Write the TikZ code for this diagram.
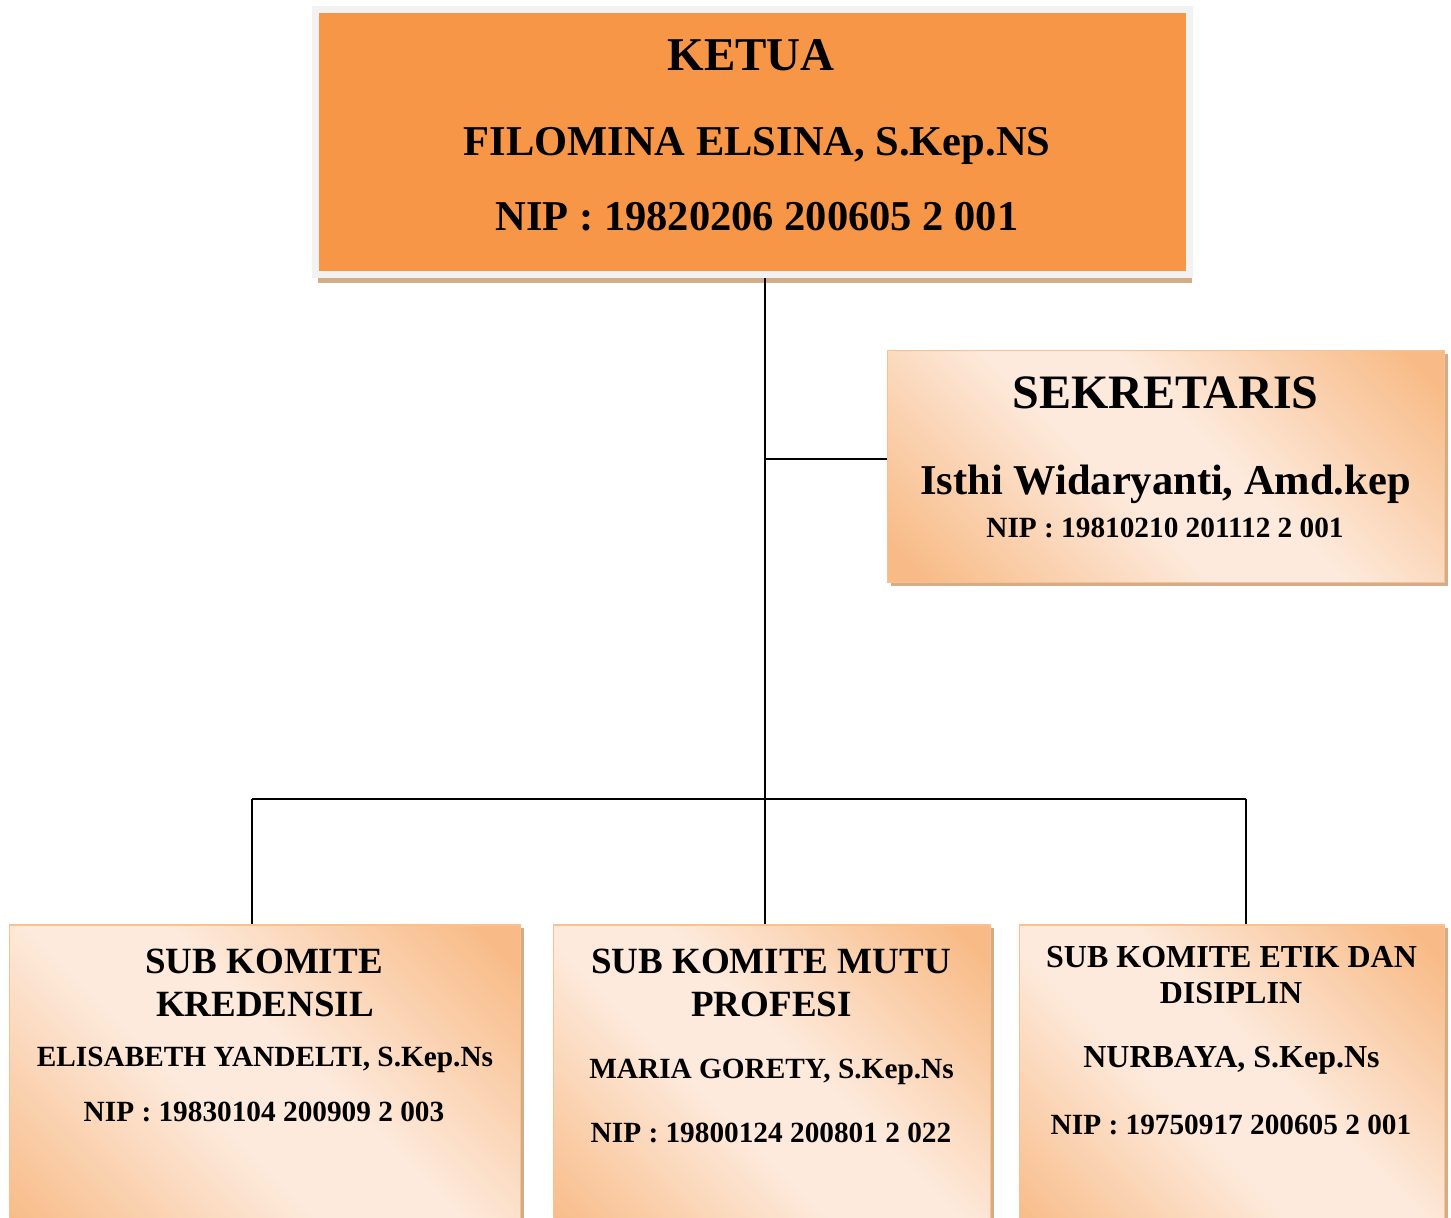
\documentclass[tikz,border=0pt]{standalone}
\usepackage{fontspec}
\setmainfont{Liberation Serif}
\usetikzlibrary{shadows}
\definecolor{ketuaorange}{HTML}{F79646}
\definecolor{ketuaedge}{HTML}{F2F2F2}
\definecolor{boxshadow}{HTML}{D3AC88}
\definecolor{peachdark}{HTML}{F8BB87}
\definecolor{peachlight}{HTML}{FDEADC}
\definecolor{peachedge}{HTML}{FAC090}
\pgfdeclarehorizontalshading{peach}{100bp}{color(0bp)=(peachdark); color(18bp)=(peachdark); color(44bp)=(peachlight); color(56bp)=(peachlight); color(82bp)=(peachdark); color(100bp)=(peachdark)}
\newcommand{\fs}[1]{\fontsize{#1}{#1}\selectfont\bfseries}
\tikzset{
  ketuabox/.style={draw=ketuaedge, line width=7pt, fill=ketuaorange,
    minimum width=874pt, minimum height=265pt,
    general shadow={fill=boxshadow, shadow xshift=2pt, shadow yshift=-8.5pt}},
  peachbox/.style={draw=peachedge, line width=1.5pt, shading=peach, shading angle=45,
    general shadow={fill=boxshadow, shadow xshift=3pt, shadow yshift=-3pt}},
  ln/.style={anchor=base, inner sep=0pt},
  link/.style={line width=1.6pt}
}
\begin{document}
\begin{tikzpicture}[x=1pt,y=-1pt]
      \clip (0,0) rectangle (1451,1218);
      % boxes
      \node[ketuabox] (ketua) at (752.5,142) {};
      \node[peachbox, minimum width=557pt, minimum height=232pt] (sekretaris) at (1166,466.5) {};
      \node[peachbox, minimum width=511pt, minimum height=340pt] (kredensil) at (265,1095) {};
      \node[peachbox, minimum width=437pt, minimum height=340pt] (mutu) at (772,1095) {};
      \node[peachbox, minimum width=425pt, minimum height=340pt] (etik) at (1232,1095) {};
      % texts
      \node[ln] (ketuaT) at (751,70) {\fs{47}KETUA};
      \node[ln] (ketuaN) at (757,155) {\fs{42.5}FILOMINA ELSINA, S.Kep.NS};
      \node[ln] (ketuaP) at (757,230) {\fs{42.5}NIP : 19820206 200605 2 001};
      \node[ln] (sekT) at (1165.5,408) {\fs{48}SEKRETARIS};
      \node[ln] (sekN) at (1165.5,494) {\fs{42.5}Isthi Widaryanti, Amd.kep};
      \node[ln] (sekP) at (1165,537) {\fs{29.3}NIP : 19810210 201112 2 001};
      \node[ln] (kredT1) at (264,973) {\fs{37}SUB KOMITE};
      \node[ln] (kredT2) at (265,1016) {\fs{37}KREDENSIL};
      \node[ln] (kredN) at (265,1066) {\fs{29.3}ELISABETH YANDELTI, S.Kep.Ns};
      \node[ln] (kredP) at (264,1121) {\fs{29.3}NIP : 19830104 200909 2 003};
      \node[ln] (mutuT1) at (771,973) {\fs{37}SUB KOMITE MUTU};
      \node[ln] (mutuT2) at (771.5,1016) {\fs{37}PROFESI};
      \node[ln] (mutuN) at (771.5,1078) {\fs{29.3}MARIA GORETY, S.Kep.Ns};
      \node[ln] (mutuP) at (771,1142) {\fs{29.3}NIP : 19800124 200801 2 022};
      \node[ln] (etikT1) at (1231.5,967) {\fs{32}SUB KOMITE ETIK DAN};
      \node[ln] (etikT2) at (1231,1003) {\fs{32}DISIPLIN};
      \node[ln] (etikN) at (1231.5,1067) {\fs{32}NURBAYA, S.Kep.Ns};
      \node[ln] (etikP) at (1231,1134) {\fs{29.3}NIP : 19750917 200605 2 001};
      % lines
      \coordinate (jsek) at (765,459);
      \coordinate (jbar) at (765,799);
      \coordinate (jleft) at (252,799);
      \coordinate (jright) at (1246,799);
      \begin{scope}[link]
        \draw (ketua.south -| jsek) to (jbar) to (mutu.north -| jbar);
        \draw (jsek) to (jsek -| sekretaris.west);
        \draw (jleft) to (jright);
        \draw (jleft) to (kredensil.north -| jleft);
        \draw (jright) to (etik.north -| jright);
      \end{scope}
    \end{tikzpicture}
\end{document}
